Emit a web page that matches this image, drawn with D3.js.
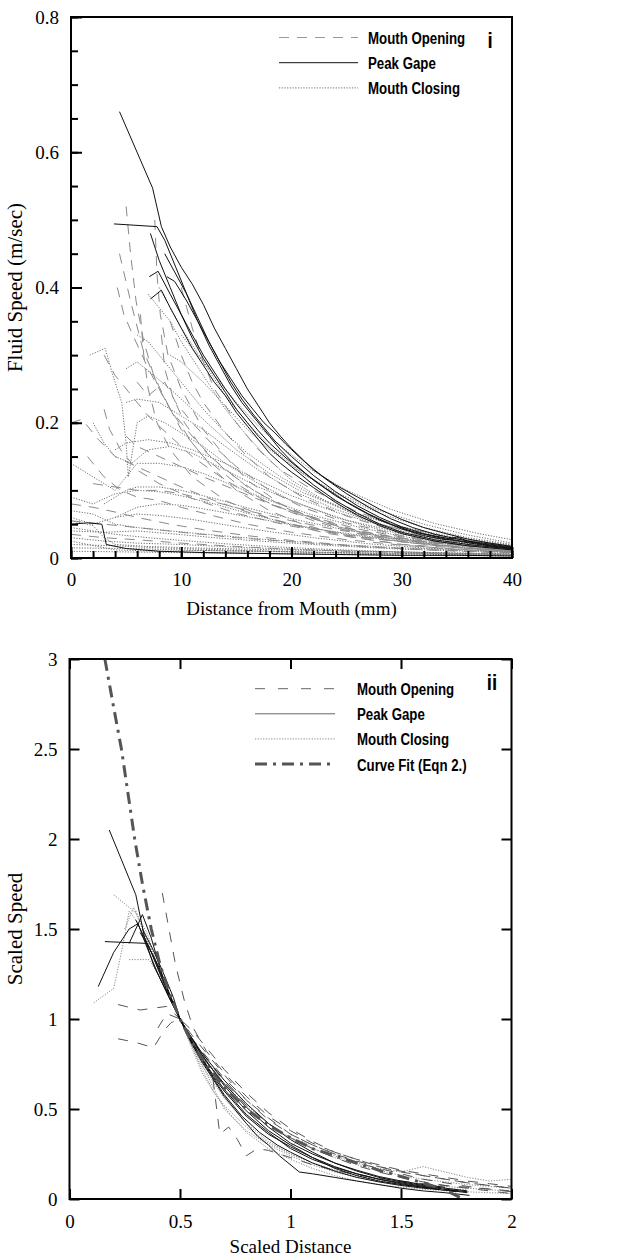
<!DOCTYPE html>
<html>
<head>
<meta charset="utf-8">
<script src="https://cdn.jsdelivr.net/npm/d3@7"></script>
<style>
  body { margin: 0; background: #fff; }
</style>
</head>
<body>
<div id="chart"></div>
<script>
// ---------- panel i : Distance from Mouth (mm) vs Fluid Speed (m/sec) ----------
const topXTicks = [0, 10, 20, 30, 40];
const topXMinor = d3.range(0, 41, 2);
const topYTicks = [0, 0.2, 0.4, 0.6, 0.8];
const topYMinor = d3.range(0, 0.81, 0.05);

// Peak Gape (solid)
const topGape = [
  [[4.4,0.66],[7.4,0.547],[8.2,0.49],[9,0.46],[10,0.43],[11,0.405],[12,0.375],[13,0.34],[14,0.31],[15,0.28],[16,0.25],[17,0.225],[18,0.2],[19,0.18],[20,0.162],[22,0.13],[24,0.108],[26,0.09],[28,0.072],[30,0.057],[32,0.045],[34,0.036],[36,0.028],[38,0.022],[40,0.017]],
  [[3.9,0.494],[7.8,0.49],[8.5,0.47],[9.5,0.43],[10.5,0.39],[11.5,0.35],[12.5,0.315],[13.5,0.285],[14.5,0.255],[15.5,0.23],[16.5,0.21],[18,0.18],[19,0.16],[20,0.143],[22,0.115],[24,0.092],[26,0.073],[28,0.056],[30,0.043],[32,0.033],[34,0.027],[35,0.031],[36,0.025],[38,0.018],[40,0.014]],
  [[7.2,0.48],[8,0.44],[9,0.4],[10,0.36],[11,0.325],[12,0.295],[13,0.27],[14,0.245],[15,0.22],[16,0.2],[17,0.18],[18,0.163],[20,0.135],[22,0.108],[24,0.085],[26,0.066],[28,0.05],[30,0.038],[33,0.027],[36,0.02],[40,0.013]],
  [[7.1,0.416],[7.9,0.424],[9,0.39],[10,0.36],[11,0.33],[12,0.3],[13,0.275],[14,0.25],[15,0.228],[16,0.208],[17,0.188],[18,0.17],[19.5,0.148],[21,0.128],[23,0.104],[25,0.083],[27,0.065],[29,0.05],[31,0.039],[34,0.028],[37,0.02],[40,0.014]],
  [[7.2,0.383],[8.2,0.396],[9,0.37],[10,0.34],[11,0.31],[12,0.285],[13,0.26],[14,0.24],[15,0.215],[16,0.195],[17,0.175],[18,0.155],[19,0.14],[20,0.127],[22,0.104],[24,0.082],[26,0.063],[28,0.048],[30,0.036],[33,0.025],[36,0.018],[40,0.012]],
  [[8.7,0.416],[9.4,0.409],[10.5,0.38],[11.5,0.35],[12.5,0.32],[13.5,0.29],[14.5,0.265],[15.5,0.24],[16.5,0.22],[17.5,0.2],[18.5,0.185],[19.5,0.168],[21,0.145],[23,0.118],[25,0.095],[27,0.075],[29,0.058],[31,0.045],[33,0.035],[36,0.025],[40,0.016]],
  [[8.5,0.45],[9.5,0.42],[10.5,0.39],[11.5,0.355],[12.5,0.32],[13.5,0.29],[14.5,0.26],[15.5,0.235],[16.5,0.213],[17.5,0.193],[18.5,0.173],[20,0.15],[22,0.122],[24,0.098],[26,0.077],[28,0.06],[30,0.046],[32,0.036],[35,0.026],[40,0.015]],
  [[0,0.05],[1.5,0.052],[2.8,0.05],[3.2,0.02],[5,0.014],[8,0.01],[12,0.008],[16,0.007],[20,0.006],[25,0.005],[30,0.004],[35,0.004],[40,0.003]]
];

// Mouth Opening (dashed)
const topOpening = [
  [[5,0.52],[5.4,0.45],[5.9,0.38],[6.6,0.32],[7.5,0.27],[9,0.22],[11,0.17],[13,0.13],[15,0.1],[18,0.07],[21,0.05],[25,0.032],[30,0.02],[35,0.012],[40,0.008]],
  [[7.6,0.5],[7.8,0.42],[8.1,0.36],[8.8,0.3],[10,0.25],[12,0.19],[14,0.15],[16,0.115],[19,0.08],[22,0.058],[26,0.038],[30,0.026],[35,0.016],[40,0.01]],
  [[4.4,0.45],[5.4,0.38],[6.5,0.31],[8,0.25],[10,0.19],[12,0.15],[15,0.11],[18,0.08],[22,0.055],[26,0.036],[30,0.024],[35,0.015],[40,0.01]],
  [[4.2,0.4],[4.8,0.36],[5.6,0.33],[7,0.28],[9,0.22],[11,0.18],[13,0.145],[16,0.105],[20,0.07],[24,0.047],[28,0.032],[33,0.02],[40,0.011]],
  [[3,0.3],[4,0.27],[5.5,0.24],[7,0.21],[9,0.18],[11,0.15],[14,0.115],[17,0.088],[20,0.068],[24,0.048],[28,0.034],[33,0.022],[40,0.012]],
  [[0,0.2],[1,0.205],[2.5,0.175],[4,0.15],[6,0.135],[8,0.12],[10,0.105],[13,0.085],[16,0.068],[20,0.05],[25,0.034],[30,0.024],[35,0.016],[40,0.01]],
  [[1.5,0.15],[3,0.12],[4.5,0.1],[6,0.09],[8,0.085],[10,0.075],[13,0.062],[16,0.05],[20,0.038],[25,0.027],[30,0.019],[35,0.013],[40,0.008]],
  [[0,0.08],[2,0.075],[4,0.068],[6,0.06],[9,0.05],[12,0.042],[16,0.033],[20,0.026],[25,0.019],[30,0.014],[35,0.01],[40,0.007]],
  [[6,0.26],[7,0.24],[8.5,0.26],[9.5,0.23],[11,0.2],[13,0.165],[15,0.135],[18,0.1],[21,0.075],[25,0.052],[30,0.033],[35,0.021],[40,0.013]],
  [[9,0.35],[10,0.3],[11,0.26],[12,0.23],[14,0.185],[16,0.15],[18,0.12],[21,0.09],[25,0.062],[29,0.042],[34,0.026],[40,0.015]],
  [[5,0.18],[6,0.165],[8,0.15],[10,0.135],[12,0.12],[15,0.1],[18,0.08],[22,0.06],[26,0.043],[30,0.031],[35,0.02],[40,0.012]],
  [[2,0.11],[4,0.105],[6,0.1],[8,0.1],[10,0.095],[13,0.083],[16,0.07],[20,0.055],[24,0.042],[28,0.032],[33,0.022],[40,0.013]],
  [[0,0.035],[3,0.03],[6,0.027],[10,0.022],[15,0.017],[20,0.013],[25,0.01],[30,0.008],[35,0.006],[40,0.005]],
  [[10,0.4],[11,0.34],[12,0.29],[13,0.25],[15,0.2],[17,0.16],[19,0.13],[22,0.1],[26,0.068],[30,0.046],[35,0.028],[40,0.017]],
  [[6.3,0.36],[6.6,0.3],[7,0.25],[7.8,0.2],[9,0.16],[11,0.12],[14,0.085],[18,0.058],[23,0.037],[30,0.02],[40,0.01]],
  [[8.2,0.33],[8.5,0.28],[9.2,0.24],[10.3,0.2],[12,0.16],[14,0.13],[17,0.095],[21,0.065],[26,0.04],[32,0.024],[40,0.013]],
  [[3,0.22],[3.5,0.19],[4.5,0.16],[6,0.13],[8,0.11],[11,0.088],[15,0.066],[20,0.047],[26,0.031],[33,0.019],[40,0.011]],
  [[0,0.055],[3,0.05],[6,0.045],[10,0.038],[15,0.03],[20,0.024],[26,0.017],[33,0.012],[40,0.008]]
];

// Mouth Closing (dotted)
const topClosing = [
  [[7,0.39],[8,0.37],[9,0.35],[10,0.32],[12,0.27],[14,0.22],[16,0.18],[18,0.145],[20,0.115],[23,0.085],[26,0.062],[30,0.04],[35,0.024],[40,0.015]],
  [[1.7,0.3],[3.1,0.31],[3.8,0.27],[4.6,0.23],[5,0.17],[5.2,0.12],[6,0.2],[7,0.21],[8.5,0.2],[10,0.185],[12,0.165],[14,0.14],[17,0.11],[20,0.085],[24,0.06],[28,0.042],[33,0.026],[40,0.014]],
  [[0,0.14],[2,0.12],[4,0.1],[5,0.12],[6,0.14],[8,0.14],[10,0.135],[12,0.125],[15,0.105],[18,0.085],[22,0.063],[26,0.046],[30,0.032],[35,0.02],[40,0.012]],
  [[0,0.09],[2,0.08],[4,0.095],[6,0.1],[8,0.098],[10,0.092],[13,0.08],[16,0.066],[20,0.05],[25,0.035],[30,0.024],[35,0.016],[40,0.01]],
  [[0,0.06],[2,0.05],[4,0.06],[6,0.065],[8,0.063],[11,0.057],[14,0.049],[18,0.039],[22,0.03],[27,0.021],[32,0.015],[40,0.009]],
  [[0,0.045],[2,0.04],[4,0.035],[7,0.03],[10,0.026],[14,0.021],[18,0.017],[23,0.013],[28,0.01],[34,0.007],[40,0.005]],
  [[6,0.33],[7,0.32],[8,0.3],[10,0.26],[12,0.22],[14,0.185],[16,0.155],[19,0.12],[22,0.092],[26,0.065],[30,0.045],[35,0.028],[40,0.017]],
  [[5,0.23],[6,0.235],[8,0.23],[10,0.21],[12,0.19],[14,0.165],[17,0.13],[20,0.1],[24,0.072],[28,0.05],[33,0.032],[40,0.018]],
  [[4,0.16],[5,0.17],[7,0.175],[9,0.17],[11,0.16],[14,0.14],[17,0.115],[20,0.092],[24,0.068],[28,0.049],[33,0.032],[40,0.018]],
  [[8,0.4],[9,0.37],[10,0.34],[12,0.29],[14,0.24],[16,0.2],[18,0.165],[21,0.125],[24,0.095],[28,0.066],[32,0.045],[36,0.03],[40,0.02]],
  [[2,0.2],[3,0.17],[4,0.15],[5.5,0.14],[7,0.16],[9,0.165],[11,0.155],[14,0.13],[17,0.105],[21,0.078],[25,0.056],[30,0.037],[35,0.024],[40,0.014]],
  [[0,0.02],[4,0.018],[8,0.015],[12,0.013],[16,0.011],[20,0.009],[25,0.007],[30,0.006],[35,0.005],[40,0.004]],
  [[0,0.03],[3,0.025],[6,0.022],[10,0.02],[15,0.016],[20,0.013],[26,0.01],[32,0.008],[40,0.006]],
  [[3,0.08],[4,0.09],[5,0.1],[6,0.105],[8,0.105],[10,0.1],[13,0.088],[16,0.074],[20,0.058],[25,0.041],[30,0.029],[35,0.02],[40,0.012]],
  [[9,0.3],[10,0.29],[12,0.26],[14,0.225],[16,0.19],[18,0.16],[21,0.125],[24,0.097],[28,0.07],[32,0.05],[36,0.034],[40,0.022]],
  [[0,0.01],[5,0.009],[10,0.008],[15,0.007],[20,0.006],[25,0.005],[30,0.004],[40,0.003]],
  [[0,0.07],[2,0.065],[4,0.05],[6,0.045],[9,0.04],[13,0.034],[18,0.027],[24,0.02],[30,0.015],[40,0.009]],
  [[0,0.04],[3,0.038],[6,0.04],[9,0.036],[13,0.03],[18,0.024],[24,0.018],[30,0.013],[40,0.008]],
  [[0,0.025],[4,0.012],[8,0.01],[12,0.011],[18,0.01],[24,0.008],[30,0.007],[40,0.005]],
  [[0,0.055],[2,0.048],[3,0.03],[4,0.02],[7,0.017],[11,0.015],[16,0.013],[22,0.011],[30,0.009],[40,0.006]],
  [[4,0.06],[6,0.075],[8,0.08],[10,0.078],[13,0.07],[17,0.058],[21,0.046],[26,0.034],[32,0.023],[40,0.013]],
  [[0,0.015],[5,0.014],[10,0.012],[15,0.01],[20,0.009],[28,0.007],[40,0.005]],
  [[5,0.28],[6,0.29],[7.5,0.27],[9,0.25],[11,0.22],[13,0.19],[15,0.16],[18,0.125],[21,0.097],[25,0.07],[30,0.046],[35,0.03],[40,0.019]],
  [[10,0.33],[11,0.31],[13,0.27],[15,0.23],[17,0.195],[19,0.165],[22,0.128],[25,0.1],[29,0.072],[33,0.051],[37,0.036],[40,0.027]]
];

// ---------- panel ii : Scaled Distance vs Scaled Speed ----------
const botXTicks = [0, 0.5, 1, 1.5, 2];
const botYTicks = [0, 0.5, 1, 1.5, 2, 2.5, 3];

const botGape = [
  [[0.18,2.05],[0.3,1.69],[0.34,1.45],[0.38,1.3],[0.42,1.2],[0.46,1.1],[0.5,1.0],[0.55,0.88],[0.6,0.78],[0.65,0.68],[0.7,0.6],[0.75,0.53],[0.8,0.46],[0.9,0.36],[1.0,0.29],[1.1,0.23],[1.2,0.18],[1.3,0.14],[1.4,0.11],[1.5,0.09],[1.6,0.07],[1.7,0.055],[1.8,0.04]],
  [[0.13,1.18],[0.2,1.37],[0.27,1.5],[0.31,1.53],[0.35,1.4],[0.4,1.25],[0.45,1.12],[0.5,1.0],[0.55,0.9],[0.6,0.8],[0.7,0.63],[0.8,0.49],[0.9,0.38],[1.0,0.3],[1.1,0.23],[1.2,0.17],[1.3,0.13],[1.4,0.1],[1.5,0.08],[1.6,0.065],[1.7,0.05],[1.8,0.035]],
  [[0.16,1.43],[0.35,1.42],[0.4,1.3],[0.45,1.15],[0.5,1.0],[0.55,0.87],[0.6,0.76],[0.7,0.57],[0.8,0.42],[0.85,0.35],[0.9,0.3],[0.95,0.24],[1.04,0.15],[1.1,0.14],[1.2,0.12],[1.3,0.1],[1.4,0.08],[1.5,0.06],[1.6,0.045],[1.7,0.035],[1.81,0.02]],
  [[0.27,1.42],[0.33,1.58],[0.37,1.45],[0.41,1.28],[0.45,1.14],[0.5,1.0],[0.56,0.86],[0.62,0.74],[0.7,0.61],[0.8,0.47],[0.9,0.37],[1.0,0.28],[1.1,0.22],[1.2,0.175],[1.3,0.14],[1.4,0.11],[1.5,0.085],[1.6,0.065],[1.7,0.05],[1.75,0.04]],
  [[0.3,1.55],[0.36,1.4],[0.42,1.22],[0.46,1.1],[0.5,1.0],[0.56,0.87],[0.62,0.76],[0.7,0.64],[0.8,0.51],[0.9,0.4],[1.0,0.31],[1.1,0.25],[1.2,0.2],[1.3,0.16],[1.4,0.125],[1.5,0.1],[1.6,0.08],[1.7,0.065]],
  [[0.32,1.48],[0.38,1.35],[0.43,1.2],[0.47,1.08],[0.5,1.0],[0.56,0.85],[0.62,0.73],[0.7,0.58],[0.78,0.46],[0.86,0.37],[0.94,0.3],[1.0,0.26],[1.1,0.2],[1.2,0.155],[1.3,0.12],[1.4,0.095],[1.5,0.075],[1.6,0.06],[1.75,0.045]],
  [[0.33,1.5],[0.38,1.38],[0.42,1.27],[0.47,1.12],[0.5,1.0],[0.55,0.9],[0.6,0.81],[0.7,0.66],[0.8,0.53],[0.9,0.42],[1.0,0.33],[1.1,0.26],[1.2,0.2],[1.3,0.155],[1.4,0.12],[1.5,0.095],[1.6,0.075],[1.7,0.06],[1.8,0.045]]
];

const botOpening = [
  [[0.42,1.7],[0.45,1.5],[0.48,1.3],[0.52,1.1],[0.56,0.95],[0.62,0.82],[0.7,0.7],[0.8,0.57],[0.9,0.46],[1.0,0.38],[1.1,0.31],[1.2,0.26],[1.3,0.22],[1.4,0.18],[1.5,0.15],[1.6,0.13],[1.7,0.11],[1.8,0.09],[1.9,0.075],[2.0,0.06]],
  [[0.22,1.08],[0.32,1.05],[0.38,1.06],[0.44,1.07],[0.5,1.0],[0.56,0.9],[0.62,0.81],[0.7,0.69],[0.8,0.55],[0.9,0.45],[1.0,0.36],[1.1,0.3],[1.2,0.25],[1.3,0.21],[1.4,0.18],[1.5,0.155],[1.6,0.13],[1.7,0.11],[1.8,0.09],[1.9,0.075],[2.0,0.06]],
  [[0.22,0.89],[0.3,0.87],[0.38,0.84],[0.43,0.94],[0.46,0.98],[0.5,1.0],[0.56,0.93],[0.62,0.84],[0.7,0.72],[0.8,0.59],[0.9,0.48],[1.0,0.39],[1.1,0.32],[1.2,0.26],[1.3,0.22],[1.4,0.19],[1.5,0.16],[1.6,0.14],[1.7,0.12],[1.8,0.1],[1.9,0.085],[2.0,0.07]],
  [[0.4,0.95],[0.44,1.03],[0.5,1.0],[0.55,0.9],[0.6,0.8],[0.65,0.66],[0.68,0.36],[0.72,0.4],[0.76,0.33],[0.8,0.24],[0.85,0.28],[0.9,0.27],[1.0,0.23],[1.1,0.19],[1.2,0.16],[1.3,0.135],[1.4,0.115],[1.5,0.1],[1.6,0.085],[1.7,0.075],[1.8,0.065],[1.9,0.055],[2.0,0.045]],
  [[0.47,1.1],[0.5,1.0],[0.55,0.9],[0.6,0.82],[0.7,0.67],[0.8,0.55],[0.9,0.44],[1.0,0.36],[1.1,0.3],[1.2,0.25],[1.3,0.2],[1.4,0.17],[1.5,0.14],[1.6,0.11],[1.7,0.09],[1.8,0.07],[1.9,0.055],[2.0,0.04]],
  [[0.5,1.0],[0.56,0.88],[0.62,0.78],[0.7,0.65],[0.8,0.52],[0.9,0.42],[1.0,0.34],[1.1,0.28],[1.2,0.23],[1.3,0.185],[1.4,0.15],[1.5,0.12],[1.6,0.095],[1.7,0.075],[1.8,0.06],[1.9,0.045],[2.0,0.03]]
];

const botClosing = [
  [[0.11,1.09],[0.2,1.17],[0.24,1.4],[0.27,1.6],[0.3,1.55],[0.35,1.43],[0.4,1.27],[0.45,1.12],[0.5,1.0],[0.55,0.86],[0.6,0.74],[0.7,0.56],[0.8,0.42],[0.9,0.32],[1.0,0.25],[1.1,0.2],[1.2,0.16],[1.3,0.13],[1.4,0.1],[1.5,0.08],[1.6,0.065],[1.7,0.05]],
  [[0.2,1.69],[0.3,1.59],[0.35,1.48],[0.4,1.3],[0.45,1.13],[0.5,1.0],[0.55,0.87],[0.6,0.75],[0.65,0.62],[0.7,0.5],[0.8,0.38],[0.9,0.3],[1.0,0.24],[1.1,0.19],[1.2,0.15],[1.3,0.12],[1.4,0.1],[1.5,0.085],[1.6,0.07],[1.7,0.06],[1.8,0.05]],
  [[0.27,1.33],[0.36,1.33],[0.4,1.25],[0.45,1.12],[0.5,1.0],[0.55,0.88],[0.6,0.78],[0.7,0.6],[0.8,0.46],[0.9,0.36],[1.0,0.3],[1.06,0.32],[1.1,0.28],[1.2,0.24],[1.3,0.2],[1.4,0.17],[1.5,0.15],[1.6,0.18],[1.7,0.15],[1.8,0.12],[1.9,0.1],[2.0,0.11]],
  [[0.25,1.5],[0.29,1.62],[0.33,1.5],[0.38,1.35],[0.43,1.18],[0.5,1.0],[0.55,0.85],[0.6,0.7],[0.66,0.58],[0.72,0.48],[0.8,0.37],[0.9,0.28],[1.0,0.22],[1.1,0.17],[1.2,0.13],[1.3,0.1],[1.4,0.08],[1.5,0.065],[1.6,0.055],[1.7,0.045],[1.8,0.04],[1.9,0.035],[2.0,0.03]],
  [[0.3,1.6],[0.36,1.42],[0.42,1.22],[0.47,1.08],[0.5,1.0],[0.56,0.88],[0.62,0.77],[0.7,0.64],[0.8,0.52],[0.9,0.42],[1.0,0.34],[1.1,0.28],[1.2,0.23],[1.3,0.19],[1.4,0.16],[1.5,0.13],[1.6,0.11],[1.7,0.095],[1.8,0.08],[1.9,0.07],[2.0,0.06]],
  [[0.5,1.0],[0.55,0.86],[0.6,0.72],[0.65,0.6],[0.7,0.52],[0.8,0.4],[0.9,0.31],[1.0,0.25],[1.1,0.2],[1.2,0.16],[1.3,0.13],[1.4,0.11],[1.5,0.095],[1.6,0.08],[1.7,0.07],[1.8,0.06],[1.9,0.05],[2.0,0.045]]
];

// Curve Fit (Eqn 2.)
const botFit = [[0.16,3.0],[0.2,2.73],[0.235,2.5],[0.265,2.25],[0.295,2.0],[0.33,1.75],[0.37,1.5],[0.41,1.3],[0.45,1.15],[0.5,1.0],[0.55,0.88],[0.6,0.78],[0.7,0.62],[0.8,0.5],[0.9,0.41],[1.0,0.34],[1.1,0.28],[1.2,0.24],[1.3,0.2],[1.4,0.16],[1.5,0.125],[1.6,0.09],[1.7,0.05],[1.78,0.0]];

// ---------- drawing ----------
const svg = d3.select("#chart").append("svg")
  .attr("width", 624).attr("height", 1260)
  .style("font-family", "'Liberation Serif', 'Times New Roman', serif");

const fmt = d => String(+d.toFixed(2));

function drawPanel(p) {
  const x = d3.scaleLinear().domain(p.xDomain).range(p.xRange);
  const y = d3.scaleLinear().domain(p.yDomain).range(p.yRange);
  const g = svg.append("g");

  const clipId = "clip" + p.id;
  g.append("clipPath").attr("id", clipId).append("rect")
    .attr("x", p.xRange[0]).attr("y", p.yRange[1])
    .attr("width", p.xRange[1] - p.xRange[0]).attr("height", p.yRange[0] - p.yRange[1]);

  const line = d3.line().x(d => x(d[0])).y(d => y(d[1]));
  const plot = g.append("g").attr("clip-path", `url(#${clipId})`);

  p.series.forEach(s => {
    plot.append("g").selectAll("path")
      .data(s.data)
      .enter()
      .append("path")
      .attr("d", line)
      .attr("fill", "none")
      .attr("stroke", s.style.stroke)
      .attr("stroke-width", s.style.width)
      .attr("stroke-dasharray", s.style.dash);
  });

  // axes (ticks point inward)
  const axes = [
    { ax: d3.axisBottom(x).tickValues(p.xTicks).tickSize(-p.tick).tickPadding(p.xPad).tickFormat(fmt), t: `translate(0,${p.yRange[0]})` },
    { ax: d3.axisLeft(y).tickValues(p.yTicks).tickSize(-p.tick).tickPadding(12).tickFormat(fmt), t: `translate(${p.xRange[0]},0)` }
  ];
  if (p.xMinor) axes.push({ ax: d3.axisBottom(x).tickValues(p.xMinor).tickSize(-p.minor).tickFormat(""), t: `translate(0,${p.yRange[0]})` });
  if (p.yMinor) axes.push({ ax: d3.axisLeft(y).tickValues(p.yMinor).tickSize(-p.minor).tickFormat(""), t: `translate(${p.xRange[0]},0)` });
  if (p.mirror) {
    axes.push({ ax: d3.axisTop(x).tickValues(p.xTicks).tickSize(-p.tick).tickFormat(""), t: `translate(0,${p.yRange[1]})` });
    axes.push({ ax: d3.axisRight(y).tickValues(p.yTicks).tickSize(-p.tick).tickFormat(""), t: `translate(${p.xRange[1]},0)` });
  }
  axes.forEach(a => {
    const ag = g.append("g").attr("transform", a.t).call(a.ax);
    ag.select(".domain").remove();
    ag.selectAll("line").attr("stroke", "#000").attr("stroke-width", 2);
    ag.selectAll("text")
      .style("font-family", "'Liberation Serif', 'Times New Roman', serif")
      .style("font-size", "19px").attr("fill", "#000");
  });

  // frame
  g.append("rect")
    .attr("x", p.xRange[0]).attr("y", p.yRange[1])
    .attr("width", p.xRange[1] - p.xRange[0]).attr("height", p.yRange[0] - p.yRange[1])
    .attr("fill", "none").attr("stroke", "#000").attr("stroke-width", 2);

  // axis titles
  g.append("text")
    .attr("x", (p.xRange[0] + p.xRange[1]) / 2).attr("y", p.xTitleY)
    .attr("text-anchor", "middle").style("font-size", "19px")
    .text(p.xTitle);
  g.append("text")
    .attr("transform", `translate(22,${(p.yRange[0] + p.yRange[1]) / 2}) rotate(-90)`)
    .attr("text-anchor", "middle").style("font-size", "21px")
    .text(p.yTitle);

  // legend (bold, horizontally condensed)
  p.legend.forEach((it, i) => {
    const ly = p.legendY + i * p.legendStep;
    g.append("line")
      .attr("x1", p.legendX[0]).attr("x2", p.legendX[1])
      .attr("y1", ly).attr("y2", ly)
      .attr("stroke", it.style.legendStroke || it.style.stroke)
      .attr("stroke-width", it.style.width)
      .attr("stroke-dasharray", it.style.legendDash || it.style.dash);
    g.append("text")
      .attr("transform", `translate(${p.legendTextX},${ly + 6.5}) scale(0.78,1)`)
      .style("font-family", "'Liberation Sans', Arial, sans-serif")
      .style("font-weight", "bold").style("font-size", "17px")
      .text(it.label);
  });

  g.append("text")
    .attr("transform", `translate(${p.tagX},${p.tagY}) scale(0.85,1)`)
    .attr("text-anchor", "middle")
    .style("font-family", "'Liberation Sans', Arial, sans-serif")
    .style("font-weight", "bold").style("font-size", "22px")
    .text(p.tag);
}

const sTop = {
  opening: { stroke: "#8a8a8a", width: 1, dash: "10,8", legendStroke: "#999" },
  gape: { stroke: "#111", width: 1, dash: null },
  closing: { stroke: "#6e6e6e", width: 1, dash: "1.2,1.5" }
};
const sBot = {
  opening: { stroke: "#555", width: 1, dash: "10,10", legendStroke: "#666", legendDash: "10,13" },
  gape: { stroke: "#111", width: 1, dash: null, legendStroke: "#666" },
  closing: { stroke: "#888", width: 1, dash: "1.2,1.5" },
  fit: { stroke: "#555", width: 3, dash: "12,6,3,6" }
};

drawPanel({
  id: "i",
  xDomain: [0, 40], xRange: [71, 512],
  yDomain: [0, 0.8], yRange: [558, 17],
  xTicks: topXTicks, yTicks: topYTicks, xMinor: topXMinor, yMinor: topYMinor,
  tick: 11, minor: 7, xPad: 15, mirror: false,
  xTitle: "Distance from Mouth (mm)", xTitleY: 615,
  yTitle: "Fluid Speed (m/sec)",
  series: [
    { data: topClosing, style: sTop.closing },
    { data: topOpening, style: sTop.opening },
    { data: topGape, style: sTop.gape }
  ],
  legend: [
    { label: "Mouth Opening", style: sTop.opening },
    { label: "Peak Gape", style: sTop.gape },
    { label: "Mouth Closing", style: sTop.closing }
  ],
  legendX: [279, 358], legendTextX: 368, legendY: 37.5, legendStep: 25.2,
  tag: "i", tagX: 490, tagY: 48
});

drawPanel({
  id: "ii",
  xDomain: [0, 2], xRange: [69.5, 511.5],
  yDomain: [0, 3], yRange: [1199, 659],
  xTicks: botXTicks, yTicks: botYTicks,
  tick: 10, minor: 0, xPad: 16, mirror: true,
  xTitle: "Scaled Distance", xTitleY: 1253,
  yTitle: "Scaled Speed",
  series: [
    { data: botClosing, style: sBot.closing },
    { data: botOpening, style: sBot.opening },
    { data: botGape, style: sBot.gape },
    { data: [botFit], style: sBot.fit }
  ],
  legend: [
    { label: "Mouth Opening", style: sBot.opening },
    { label: "Peak Gape", style: sBot.gape },
    { label: "Mouth Closing", style: sBot.closing },
    { label: "Curve Fit (Eqn 2.)", style: sBot.fit }
  ],
  legendX: [255, 335], legendTextX: 357, legendY: 688.7, legendStep: 25.1,
  tag: "ii", tagX: 492, tagY: 690
});
</script>
</body>
</html>
